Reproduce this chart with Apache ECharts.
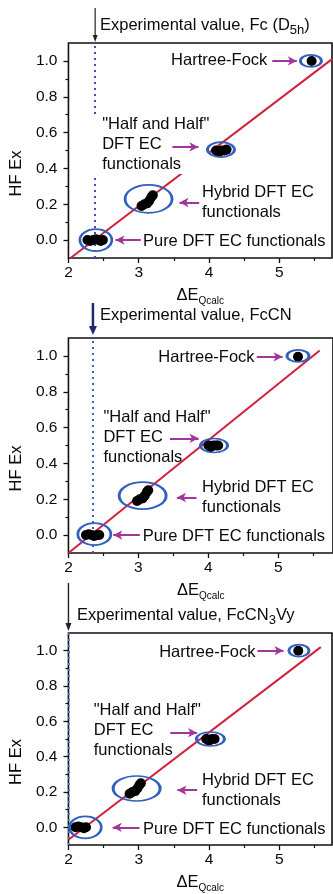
<!DOCTYPE html>
<html><head><meta charset="utf-8">
<script src="https://cdn.jsdelivr.net/npm/echarts@6/dist/echarts.min.js"></script>
<style>html,body{margin:0;padding:0;background:#fff}#c{width:333px;height:894px}</style>
</head><body><div id="c"></div>
<script>
// ---------------- data ----------------
const xTickValues = [2, 3, 4, 5];
const xMinorValues = [2.5, 3.5, 4.5, 5.5];
const yTickValues = [0, 0.2, 0.4, 0.6, 0.8, 1.0];
const yMinorValues = [0.1, 0.3, 0.5, 0.7, 0.9];

const expFc = 2.38;
const expFcCN = 2.35;
const expFcCN3Vy = 2.0;

const pureFc   = [[2.27,0],[2.31,-0.005],[2.35,0],[2.39,0.005],[2.43,0],[2.46,-0.005],[2.49,0]];
const hybridFc = [[3.04,0.19],[3.08,0.2],[3.12,0.205],[3.15,0.22],[3.18,0.24],[3.2,0.25]];
const halfFc   = [[4.1,0.5],[4.14,0.49],[4.18,0.5],[4.22,0.5],[4.25,0.505]];
const hfFc     = [[5.46,1.0]];
const fitFc    = [[2.03,-0.1],[5.75,1.01]];

const pureFcCN   = [[2.25,0],[2.29,0.005],[2.33,0],[2.37,-0.005],[2.41,0],[2.44,0]];
const hybridFcCN = [[2.98,0.19],[3.02,0.2],[3.06,0.205],[3.09,0.22],[3.12,0.24],[3.14,0.25]];
const halfFcCN   = [[4.0,0.5],[4.03,0.49],[4.07,0.5],[4.11,0.5],[4.14,0.5]];
const hfFcCN     = [[5.28,0.995]];
const fitFcCN    = [[2.0,-0.1],[5.59,1.03]];

const pureFcCN3Vy   = [[2.1,0],[2.14,0.005],[2.18,0],[2.22,-0.005],[2.25,0]];
const hybridFcCN3Vy = [[2.87,0.19],[2.91,0.2],[2.95,0.205],[2.98,0.22],[3.01,0.24],[3.03,0.25]];
const halfFcCN3Vy   = [[3.96,0.5],[4.0,0.49],[4.04,0.5],[4.08,0.5]];
const hfFcCN3Vy     = [[5.27,1.0]];
const fitFcCN3Vy    = [[2.0,-0.07],[5.59,1.02]];

// ---------------- styling / layout ----------------
const FONT = '"Liberation Sans", Arial, Helvetica, sans-serif';
const TXT = '#0a0a0a';
const RED = '#d21f3c';
const BLUE = '#2f5fbf';
const PURPLE = '#a3349c';
const FS = 16.5;

const panels = [
  {
    grid: {left: 64, top: 43, width: 268, height: 215}, xMax: 5.75,
    exp: expFc, expColor: '#4848b8',
    groups: [pureFc, hybridFc, halfFc, hfFc], fit: fitFc,
    ellipses: [{c:[2.39,0.0], s:[32,22]}, {c:[3.14,0.23], s:[47,28]}, {c:[4.17,0.505], s:[27,15]}, {c:[5.45,1.0], s:[21,12]}],
    arrows: [[[4.90,1.0],[5.25,1.0]], [[3.48,0.52],[3.85,0.52]], [[3.86,0.21],[3.58,0.21]], [[3.03,0.0],[2.67,0.0]]],
    hfText: [4.83,1.0], halfText: [2.48,0.536], hybridText: [3.90,0.21], pureText: [3.06,-0.01],
    halfBg: true,
    title: 'Experimental value, Fc (D{s|5h})', titleX: 100, titleY: 25,
    topArrow: {y1: 8, y2: 42, color: '#222', width: 1.2, head: [5, 7]}
  },
  {
    grid: {left: 64, top: 338, width: 271, height: 215}, xMax: 5.78,
    exp: expFcCN, expColor: '#3a62cc',
    groups: [pureFcCN, hybridFcCN, halfFcCN, hfFcCN], fit: fitFcCN,
    ellipses: [{c:[2.37,0.005], s:[33,22]}, {c:[3.06,0.22], s:[47,27]}, {c:[4.08,0.5], s:[27,14]}, {c:[5.28,1.0], s:[22,12]}],
    arrows: [[[4.69,0.995],[5.06,0.995]], [[3.45,0.54],[3.86,0.54]], [[3.83,0.21],[3.55,0.21]], [[3.02,0.0],[2.64,0.0]]],
    hfText: [4.66,0.99], halfText: [2.5,0.547], hybridText: [3.91,0.21], pureText: [3.06,-0.01],
    halfBg: false,
    title: 'Experimental value, FcCN', titleX: 100, titleY: 315,
    topArrow: {y1: 303, y2: 335, color: '#23296e', width: 2.5, head: [8, 9]}
  },
  {
    grid: {left: 64, top: 633, width: 268, height: 215}, xMax: 5.75,
    exp: expFcCN3Vy, expColor: '#4a7ad8',
    groups: [pureFcCN3Vy, hybridFcCN3Vy, halfFcCN3Vy, hfFcCN3Vy], fit: fitFcCN3Vy,
    ellipses: [{c:[2.24,0.0], s:[32,22]}, {c:[2.97,0.22], s:[47,25]}, {c:[4.02,0.5], s:[28,14]}, {c:[5.28,1.0], s:[20,12]}],
    arrows: [[[4.69,1.0],[5.06,1.0]], [[3.45,0.536],[3.83,0.536]], [[3.83,0.21],[3.55,0.21]], [[3.01,0.0],[2.63,0.0]]],
    hfText: [4.66,0.99], halfText: [2.36,0.547], hybridText: [3.90,0.207], pureText: [3.06,-0.01],
    halfBg: false,
    title: 'Experimental value, FcCN{s|3}Vy', titleX: 77, titleY: 615,
    topArrow: {y1: 583, y2: 631, color: '#222', width: 1.4, head: [6, 8]}
  }
];

const grids = [], xAxes = [], yAxes = [], series = [];
const groupNames = ['Pure DFT', 'Hybrid DFT', 'Half and Half', 'Hartree-Fock'];

panels.forEach((p, i) => {
  grids.push(Object.assign({show: true, borderColor: '#111', borderWidth: 1.6, backgroundColor: 'transparent'}, p.grid));
  const xi = 2 * i, yi = 2 * i;
  xAxes.push({
    gridIndex: i, type: 'value', min: 2, max: p.xMax, position: 'bottom',
    axisLine: {show: false, onZero: false},
    axisTick: {show: true, inside: false, length: 5, customValues: xTickValues, lineStyle: {color: '#111', width: 1.3}},
    axisLabel: {show: true, customValues: xTickValues, margin: 7, fontSize: 15.5, fontFamily: FONT, color: TXT, formatter: v => String(v)},
    splitLine: {show: false},
    name: '{a|ΔE}{s|Qcalc}', nameLocation: 'middle', nameGap: 27,
    nameTextStyle: {rich: {a: {fontSize: FS, fontFamily: FONT, color: TXT}, s: {fontSize: 10, fontFamily: FONT, color: TXT, padding: [11, 0, 0, 0]}}}
  });
  xAxes.push({
    gridIndex: i, type: 'value', min: 2, max: p.xMax, position: 'bottom',
    axisLine: {show: false, onZero: false},
    axisTick: {show: true, inside: false, length: 3, customValues: xMinorValues, lineStyle: {color: '#111', width: 1.2}},
    axisLabel: {show: false}, splitLine: {show: false}
  });
  yAxes.push({
    gridIndex: i, type: 'value', min: -0.1, max: 1.1, position: 'left',
    axisLine: {show: false, onZero: false},
    axisTick: {show: true, inside: false, length: 5, customValues: yTickValues, lineStyle: {color: '#111', width: 1.3}},
    axisLabel: {show: true, customValues: yTickValues, margin: 11, fontSize: 15.5, fontFamily: FONT, color: TXT, formatter: v => v.toFixed(1)},
    splitLine: {show: false},
    name: 'HF Ex', nameLocation: 'middle', nameGap: 30, nameRotate: 90,
    nameTextStyle: {fontSize: FS, fontFamily: FONT, color: TXT, padding: [0, 46, 0, 0]}
  });
  yAxes.push({
    gridIndex: i, type: 'value', min: -0.1, max: 1.1, position: 'left',
    axisLine: {show: false, onZero: false},
    axisTick: {show: true, inside: false, length: 3, customValues: yMinorValues, lineStyle: {color: '#111', width: 1.2}},
    axisLabel: {show: false}, splitLine: {show: false}
  });

  // fitted red line + experimental dotted line
  series.push({
    type: 'line', name: 'fit', xAxisIndex: xi, yAxisIndex: yi, data: p.fit, symbol: 'none', silent: true,
    lineStyle: {color: RED, width: 2}, z: 2,
    markLine: {silent: true, z: 1, symbol: ['none', 'none'], label: {show: false},
      lineStyle: {color: p.expColor, width: 2, type: [2, 4]}, data: [{xAxis: p.exp}]}
  });
  // measured points
  p.groups.forEach((g, k) => {
    series.push({type: 'scatter', name: groupNames[k], xAxisIndex: xi, yAxisIndex: yi, data: g,
      symbol: 'circle', symbolSize: 10, itemStyle: {color: '#000', opacity: 1}, silent: true, z: 3});
  });
  // ellipses
  series.push({type: 'scatter', name: 'ellipses', xAxisIndex: xi, yAxisIndex: yi,
    data: p.ellipses.map(e => ({value: e.c, symbolSize: e.s})), symbol: 'circle',
    itemStyle: {color: 'rgba(0,0,0,0)', borderColor: BLUE, borderWidth: 2.2, opacity: 1}, silent: true, z: 4});
  // text annotations + arrows
  const lab = (pos, extra) => Object.assign({show: true, position: pos, distance: 0, fontSize: FS, fontFamily: FONT, color: TXT, lineHeight: 20}, extra);
  const halfLabel = lab('right', {formatter: '"Half and Half"\nDFT EC\nfunctionals'});
  if (p.halfBg) Object.assign(halfLabel, {backgroundColor: '#fff', padding: [0, 0, 0, 12], offset: [-12, 0]});
  series.push({
    type: 'scatter', name: 'annotations', xAxisIndex: xi, yAxisIndex: yi, symbolSize: 0, silent: true, z: 3,
    itemStyle: {opacity: 1},
    data: [
      {value: p.hfText, label: lab('left', {formatter: 'Hartree-Fock'})},
      {value: p.halfText, label: halfLabel},
      {value: p.hybridText, label: lab('right', {formatter: 'Hybrid DFT EC\nfunctionals'})},
      {value: p.pureText, label: lab('right', {formatter: 'Pure DFT EC functionals'})}
    ],
    markLine: {silent: true, z: 5, symbol: ['none', 'arrow'], symbolSize: [7, 9], label: {show: false},
      lineStyle: {color: PURPLE, width: 2, type: 'solid', opacity: 1},
      data: p.arrows.map(a => [{coord: a[0]}, {coord: a[1]}])}
  });
});

const chart = echarts.init(document.getElementById('c'), null, {renderer: 'canvas'});
chart.setOption({animation: false, backgroundColor: '#fff', grid: grids, xAxis: xAxes, yAxis: yAxes, series: series});

// titles and top arrows marking the experimental values
const graphics = [];
panels.forEach((p, i) => {
  const px = chart.convertToPixel({xAxisIndex: 2 * i}, p.exp);
  const a = p.topArrow;
  graphics.push({type: 'line', silent: true, shape: {x1: px, y1: a.y1, x2: px, y2: a.y2 - a.head[1] + 1},
    style: {stroke: a.color, lineWidth: a.width}});
  graphics.push({type: 'polygon', silent: true,
    shape: {points: [[px - a.head[0] / 2, a.y2 - a.head[1]], [px + a.head[0] / 2, a.y2 - a.head[1]], [px, a.y2]]},
    style: {fill: a.color}});
  graphics.push({type: 'text', silent: true, x: p.titleX, y: p.titleY,
    style: {text: p.title, fontSize: FS, fontFamily: FONT, fill: TXT, verticalAlign: 'middle', align: 'left',
      rich: {s: {fontSize: 13, fontFamily: FONT, fill: TXT, padding: [10, 0, 0, 0]}}}});
});
chart.setOption({graphic: graphics});
</script></body></html>
